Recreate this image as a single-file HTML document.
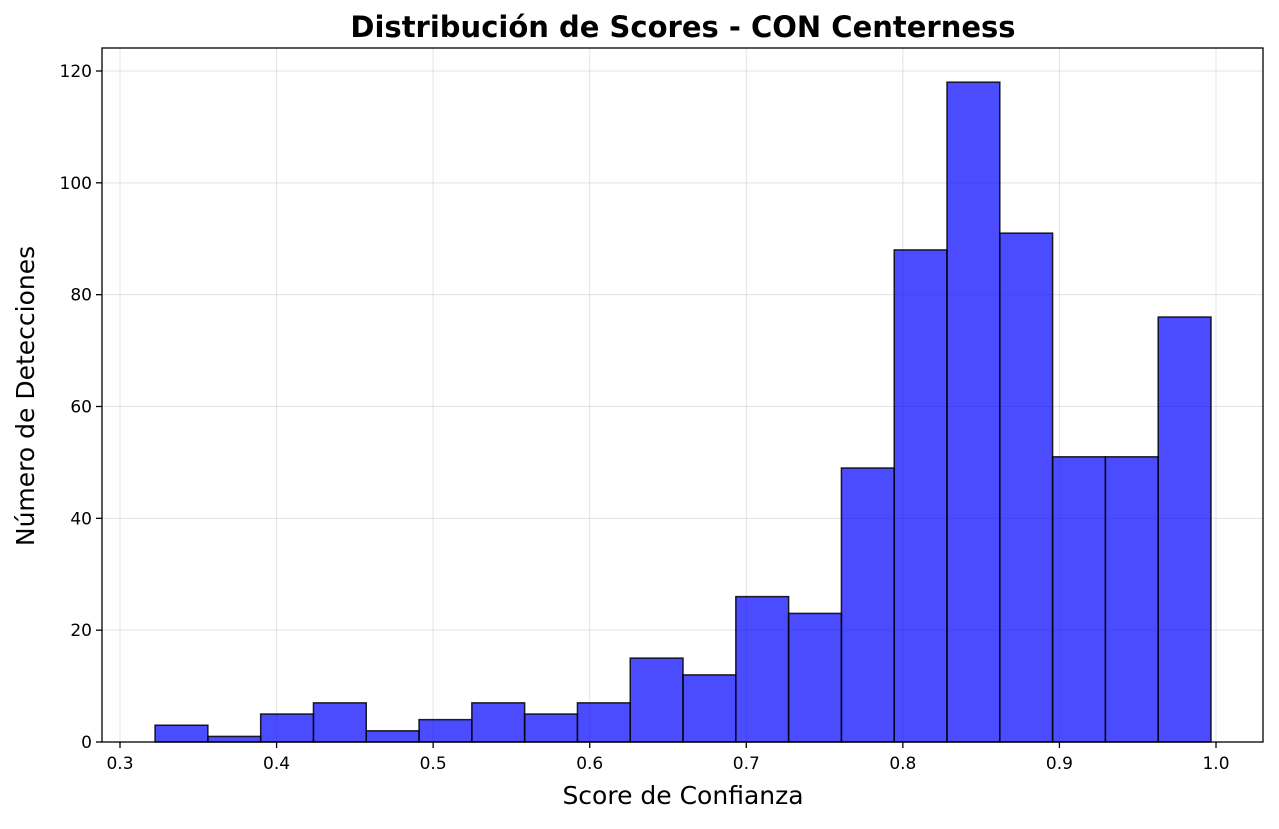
<!DOCTYPE html>
<html><head><meta charset="utf-8"><style>
body{margin:0;background:#fff;}
svg text{font-family:"DejaVu Sans","Liberation Sans",sans-serif;}
</style></head><body>
<svg id="chart" width="1279" height="824" xmlns="http://www.w3.org/2000/svg">
<rect width="1279" height="824" fill="#fff"/>
<text x="683" y="37" text-anchor="middle" font-size="29" font-weight="bold">Distribución de Scores - CON Centerness</text>
<g id="grid"></g>
<g id="bars"></g>
<g id="axes"></g>
<text x="683" y="804" text-anchor="middle" font-size="25">Score de Confianza</text>
<text transform="translate(26,396) rotate(-90)" text-anchor="middle" font-size="25" dy="8">Número de Detecciones</text>
</svg>
<script>
const binStart = 0.3224;
const binWidth = 0.03372;
const counts = [3,1,5,7,2,4,7,5,7,15,12,26,23,49,88,118,91,51,51,76];
const xTicks = [0.3,0.4,0.5,0.6,0.7,0.8,0.9,1.0];
const yTicks = [0,20,40,60,80,100,120];

const L=102,R=1263,T=48,B=742;
const xs = v => 120 + (v-0.3)*(1096/0.7);
const ys = v => 742 - v*(671/120);
const NS="http://www.w3.org/2000/svg";
function mk(tag, attrs, parent){const e=document.createElementNS(NS,tag);for(const k in attrs)e.setAttribute(k,attrs[k]);parent.appendChild(e);return e;}
const grid=document.getElementById('grid'), bars=document.getElementById('bars'), axes=document.getElementById('axes');

xTicks.forEach(t=>{
  const x=xs(t);
  const g=mk('line',{x1:x,x2:x,y1:T,y2:B,stroke:'#b0b0b0','stroke-opacity':0.35,'stroke-width':1},grid);
  
  
  mk('line',{x1:x,x2:x,y1:B,y2:B+6,stroke:'#000','stroke-width':1.3},axes);
  const tx=mk('text',{x:x,y:B+27,'text-anchor':'middle','font-size':17},axes);
  tx.textContent=t.toFixed(1);
  
  
});
yTicks.forEach(t=>{
  const y=ys(t);
  const g=mk('line',{x1:L,x2:R,y1:y,y2:y,stroke:'#b0b0b0','stroke-opacity':0.35,'stroke-width':1},grid);
  
  
  mk('line',{x1:L-6,x2:L,y1:y,y2:y,stroke:'#000','stroke-width':1.3},axes);
  const tx=mk('text',{x:L-10,y:y+6,'text-anchor':'end','font-size':17},axes);
  tx.textContent=t;
  
  
});
counts.forEach((c,i)=>{
  const x0=xs(binStart+i*binWidth), x1=xs(binStart+(i+1)*binWidth);
  const r=mk('rect',{x:x0,y:ys(c),width:x1-x0,height:ys(0)-ys(c),fill:'rgba(0,0,255,0.7)',stroke:'rgba(0,0,0,0.85)','stroke-width':1.5},bars);
  
  
});
const frame=mk('rect',{x:L,y:T,width:R-L,height:B-T,fill:'none',stroke:'#000','stroke-width':1.3},axes);


</script>
</body></html>
